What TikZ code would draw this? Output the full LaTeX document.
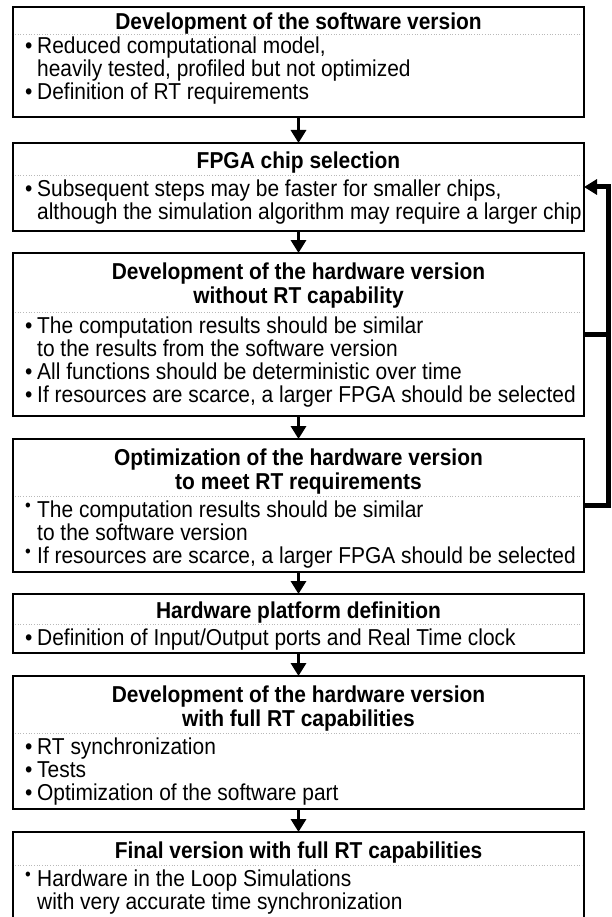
\documentclass[tikz,border=0pt]{standalone}
\usepackage{fontspec}
\setmainfont{Liberation Sans}[FakeStretch=0.91]
\usetikzlibrary{arrows.meta}
\newcommand{\itm}{\makebox[12pt][l]{\textbullet}}
\newcommand{\itmup}{\makebox[12pt][l]{\raisebox{0.26em}{\fontsize{18}{18}\selectfont\textbullet}}}
\newcommand{\ind}{\hspace*{12pt}}

\begin{document}
\begin{tikzpicture}[x=1pt, y=-1pt,
    every node/.style={font=\fontsize{23}{23}\selectfont, inner sep=0pt},
    stage/.style={draw, line width=2.5pt, minimum width=571pt, outer sep=0pt, anchor=north},
    heading/.style={font=\fontsize{23}{24}\selectfont\bfseries, align=center, anchor=north},
    items/.style={align=left, anchor=north west},
    sep/.style={draw=gray!55, dotted, line width=0.7pt},
    flow/.style={-{Triangle[width=15pt,length=13pt]}, line width=3.5pt},
    loopline/.style={line width=5pt}]
    \clip (0,0) rectangle (611,917);

    % boxes
    \node[stage, minimum height=110pt] (sw) at (298.5,7) {};
    \node[stage, minimum height=88pt] (chip) at (298.5,143) {};
    \node[stage, minimum height=163pt] (hwnort) at (298.5,253) {};
    \node[stage, minimum height=133pt] (hwopt) at (298.5,439) {};
    \node[stage, minimum height=59pt] (platform) at (298.5,594) {};
    \node[stage, minimum height=133pt] (hwfull) at (298.5,676) {};
    \node[stage, minimum height=120pt] (final) at (298.5,832) {};

    % headings and separators
    \node[heading] (sw-head) at (298.5,12.3) {Development of the software version};
    \draw[sep] (15,34) -- (582,34);
    \node[heading] (chip-head) at (298.5,151.3) {FPGA chip selection};
    \draw[sep] (15,175) -- (582,175);
    \node[heading] (hwnort-head) at (298.5,262.3) {Development of the hardware version\\without RT capability};
    \draw[sep] (15,312) -- (582,312);
    \node[heading] (hwopt-head) at (298.5,448.3) {Optimization of the hardware version\\to meet RT requirements};
    \draw[sep] (15,496) -- (582,496);
    \node[heading] (platform-head) at (298.5,601.3) {Hardware platform definition};
    \draw[sep] (15,624) -- (582,624);
    \node[heading] (hwfull-head) at (298.5,685.3) {Development of the hardware version\\with full RT capabilities};
    \draw[sep] (15,733) -- (582,733);
    \node[heading] (final-head) at (298.5,841.3) {Final version with full RT capabilities};
    \draw[sep] (15,865) -- (582,865);

    % bullet lists
    \node[items] (sw-list) at (25,36.3) {\itm Reduced computational model,\\\ind heavily tested, profiled but not optimized\\\itm Definition of RT requirements};
    \node[items] (chip-list) at (25,179.3) {\itm Subsequent steps may be faster for smaller chips,\\\ind although the simulation algorithm may require a larger chip};
    \node[items] (hwnort-list) at (25,316.3) {\itm The computation results should be similar\\\ind to the results from the software version\\\itm All functions should be deterministic over time\\\itm If resources are scarce, a larger FPGA should be selected};
    \node[items] (hwopt-list) at (25,500.3) {\itmup The computation results should be similar\\\ind to the software version\\\itmup If resources are scarce, a larger FPGA should be selected};
    \node[items] (platform-list) at (25,628.3) {\itm Definition of Input/Output ports and Real Time clock};
    \node[items] (hwfull-list) at (25,737.3) {\itm RT synchronization\\\itm Tests\\\itm Optimization of the software part};
    \node[items] (final-list) at (25,869.3) {\itmup Hardware in the Loop Simulations\\\ind with very accurate time synchronization};

    % flow
    \draw[flow] (sw) -- (chip);
    \draw[flow] (chip) -- (hwnort);
    \draw[flow] (hwnort) -- (hwopt);
    \draw[flow] (hwopt) -- (platform);
    \draw[flow] (platform) -- (hwfull);
    \draw[flow] (hwfull) -- (final);

    % feedback to chip selection
    \draw[loopline, -{Triangle[width=15pt,length=13pt]}] (hwopt.east) -- ++(24,0) coordinate (loopx) |- (chip.east);
    \draw[loopline] (hwnort.east) -- (hwnort.east -| loopx);
\end{tikzpicture}
\end{document}
